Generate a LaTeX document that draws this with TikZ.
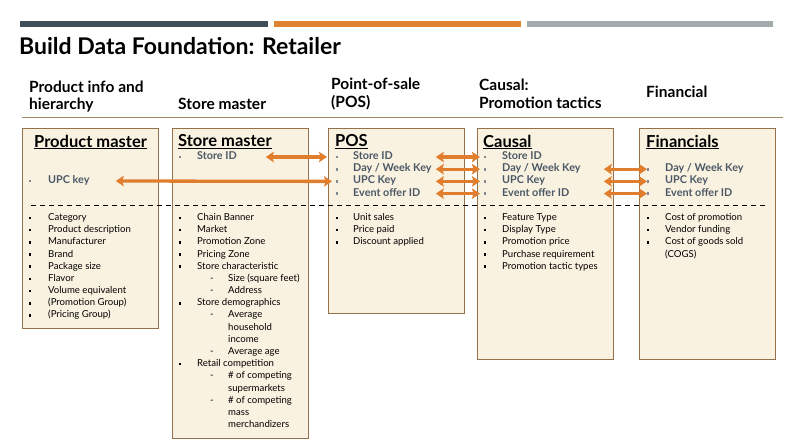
\documentclass[tikz,border=0pt]{standalone}
\usepackage{fontspec}
\setmainfont{Lato}
\usetikzlibrary{calc,arrows.meta}
\definecolor{barslate}{HTML}{3F4E5B}
\definecolor{barorange}{HTML}{E0832F}
\definecolor{bargray}{HTML}{A2AAAE}
\definecolor{boxfill}{HTML}{FAF2E1}
\definecolor{boxline}{HTML}{94714A}
\definecolor{keytext}{HTML}{4A5866}
\definecolor{keyorange}{HTML}{E07E2E}
\definecolor{ruleline}{HTML}{A08A68}
\tikzset{
	databox/.style={draw=boxline, fill=boxfill, line width=0.8pt, anchor=north west, minimum width=136pt, inner sep=0pt},
	boxtitle/.style={anchor=west, inner sep=0pt, font=\bfseries\fontsize{16.5}{19}\selectfont},
	colhead/.style={anchor=west, inner sep=0pt, align=left, font=\bfseries\fontsize{15.5}{17.5}\selectfont},
	item/.style={anchor=west, inner sep=0pt, text height=7pt, text depth=2pt, font=\fontsize{9.6}{11}\selectfont},
	keyitem/.style={item, text=keytext, font=\bfseries\fontsize{10.8}{12}\selectfont},
	dot/.style={fill=black, minimum width=2.2pt, minimum height=2.6pt, inner sep=0pt},
	keydot/.style={dot, fill=keytext!70},
	keylink/.style={draw=keyorange, line width=3.3pt, {Stealth[length=8pt,width=10.5pt,inset=1.5pt]}-{Stealth[length=8pt,width=10.5pt,inset=1.5pt]}},
	splitline/.style={line width=0.9pt, dash pattern=on 5pt off 4pt},
}

\begin{document}
\begin{tikzpicture}[x=1pt,y=-1pt]
			%%%%% START %%%%%
			\useasboundingbox (0,0) rectangle (798,444);
			
			\fill[barslate] (20,21) rectangle (268,27);
			\fill[barorange] (274,21) rectangle (521,27);
			\fill[bargray] (527,21) rectangle (773,27);
			\node[anchor=west, inner sep=0pt, font=\bfseries\fontsize{23}{26}\selectfont] (title) at (19,46) {Build Data Foundation: Retailer};
			
			\node[colhead] (h-prod) at (29,96.5) {Product info and\\hierarchy};
			\node[colhead] (h-store) at (178,104) {Store master};
			\node[colhead] (h-pos) at (331,94) {Point-of-sale\\(POS)};
			\node[colhead] (h-causal) at (479,94) {Causal:\\Promotion tactics};
			\node[colhead] (h-fin) at (646,92) {Financial};
			\draw[ruleline, line width=0.8pt] (22,117) -- (783,117);
			
			\node[databox, minimum height=200pt] (prod) at (22,128) {};
			\node[databox, minimum height=310pt] (store) at (172,128) {};
			\node[databox, minimum height=185pt] (pos) at (328,128) {};
			\node[databox, minimum height=231pt] (causal) at (477,128) {};
			\node[databox, minimum height=231pt] (fin) at (639,128) {};
			
			\node[boxtitle] (t-prod) at (34,142) {\underline{Product master}};
			\node[boxtitle] (t-store) at (178,142) {\underline{Store master}};
			\node[boxtitle] (t-pos) at (335,142) {\underline{POS}};
			\node[boxtitle] (t-causal) at (483,142) {\underline{Causal}};
			\node[boxtitle] (t-fin) at (646,142) {\underline{Financials}};
			
			% key fields
			\node[keydot] (prod-bupc) at (30,181) {};
			\node[keyitem] (prod-upc) at (48,181) {UPC key};
			\node[keydot] (store-bsid) at (180,157) {};
			\node[keyitem] (store-sid) at (197,157) {Store ID};
			\foreach \k/\t [count=\i from 0] in {sid/Store ID,dwk/{Day / Week Key},upc/UPC Key,evt/Event offer ID}{
				\node[keydot] (pos-b\k) at (337,{157+12.2*\i}) {};
				\node[keyitem] (pos-\k) at (353,{157+12.2*\i}) {\t};
				\node[keydot] (causal-b\k) at (485,{157+12.2*\i}) {};
				\node[keyitem] (causal-\k) at (502,{157+12.2*\i}) {\t};
			}
			\foreach \k/\t [count=\i from 1] in {dwk/{Day / Week Key},upc/UPC Key,evt/Event offer ID}{
				\node[keydot] (fin-b\k) at (648,{157+12.2*\i}) {};
				\node[keyitem] (fin-\k) at (665,{157+12.2*\i}) {\t};
			}
			
			\draw[splitline] (31,205) -- (765,205);
			
			% other fields
			\foreach \t [count=\i from 0] in {Category,Product description,Manufacturer,Brand,Package size,Flavor,Volume equivalent,(Promotion Group),(Pricing Group)}{
				\node[dot] (prod-b\i) at (30,{218+12.18*\i}) {};
				\node[item] (prod-\i) at (48,{218+12.18*\i}) {\t};
			}
			\foreach \l/\t [count=\i from 0] in {1/Chain Banner,1/Market,1/Promotion Zone,1/Pricing Zone,1/Store characteristic,2/Size (square feet),2/Address,1/Store demographics,2/Average,3/household,3/income,2/Average age,1/Retail competition,2/\# of competing,3/supermarkets,2/\# of competing,3/mass,3/merchandizers}{
				\pgfmathsetmacro\yy{218+12.18*\i}
				\ifnum\l=1 \node[dot] (store-b\i) at (180,\yy) {}; \node[item] (store-\i) at (197,\yy) {\t};\fi
				\ifnum\l=2 \node[item] (store-d\i) at (210,\yy) {-}; \node[item] (store-\i) at (228,\yy) {\t};\fi
				\ifnum\l=3 \node[item] (store-\i) at (228,\yy) {\t};\fi
			}
			\foreach \t [count=\i from 0] in {Unit sales,Price paid,Discount applied}{
				\node[dot] (pos-b\i) at (337,{218+12.18*\i}) {};
				\node[item] (pos-\i) at (353,{218+12.18*\i}) {\t};
			}
			\foreach \t [count=\i from 0] in {Feature Type,Display Type,Promotion price,Purchase requirement,Promotion tactic types}{
				\node[dot] (causal-b\i) at (485,{218+12.18*\i}) {};
				\node[item] (causal-\i) at (502,{218+12.18*\i}) {\t};
			}
			\foreach \t [count=\i from 0] in {Cost of promotion,Vendor funding,Cost of goods sold}{
				\node[dot] (fin-b\i) at (648,{218+12.18*\i}) {};
				\node[item] (fin-\i) at (665,{218+12.18*\i}) {\t};
			}
			\node[item] (fin-3) at (665,254.5) {(COGS)};
			
			% key links
			\draw[keylink] ($(store.east |- store-sid)+(-43,0)$) -- ($(pos.west |- pos-sid)+(-1,0)$);
			\draw[keylink] ($(prod.east |- prod-upc)+(-43,0)$) -- ($(pos.west |- pos-upc)+(4,0)$);
			\foreach \k in {sid,dwk,upc,evt}
				\draw[keylink] ($(pos.east |- pos-\k)+(-29,0)$) -- ($(causal.west |- causal-\k)+(3,0)$);
			\foreach \k in {dwk,upc,evt}
				\draw[keylink] ($(causal.east |- causal-\k)+(-10,0)$) -- ($(fin.west |- fin-\k)+(8,0)$);
			
			%%%%% END %%%%%
\end{tikzpicture}
\end{document}
